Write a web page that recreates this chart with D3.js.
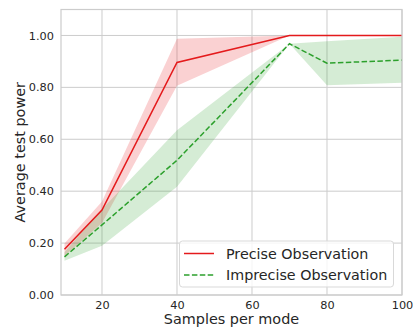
<!DOCTYPE html>
<html><head><meta charset="utf-8">
<script src="https://cdn.jsdelivr.net/npm/d3@7"></script>
<style>body{margin:0;background:#fff}svg{display:block;font-family:"DejaVu Sans",sans-serif}</style>
</head><body>
<svg id="c" width="413" height="328"></svg>
<script>
const samples = [10, 20, 40, 70, 80, 100];
const preciseMean = [0.176, 0.327, 0.896, 1.0, 1.0, 1.0];
const preciseLow  = [0.150, 0.277, 0.806, 1.0, 1.0, 1.0];
const preciseHigh = [0.198, 0.360, 0.987, 1.0, 1.0, 1.0];
const impreciseMean = [0.147, 0.270, 0.519, 0.968, 0.893, 0.905];
const impreciseLow  = [0.132, 0.190, 0.417, 0.968, 0.808, 0.818];
const impreciseHigh = [0.165, 0.330, 0.635, 0.968, 0.978, 0.995];
const xTicks = [20, 40, 60, 80, 100];
const yTicks = [0, 0.2, 0.4, 0.6, 0.8, 1.0];
const seriesNames = ["Precise Observation", "Imprecise Observation"];

const svg = d3.select("#c");
const L = 61, R = 402, T = 9.5, B = 295;
const x = d3.scaleLinear().domain([9.07, 100]).range([L, R]);
const y = d3.scaleLinear().domain([0, 1.1]).range([B, T]);
const grid = "#cccccc";

svg.append("g").selectAll("line").data(xTicks).join("line")
  .attr("x1", d => x(d)).attr("x2", d => x(d)).attr("y1", T).attr("y2", B)
  .attr("stroke", grid).attr("stroke-width", 1);
svg.append("g").selectAll("line").data(yTicks).join("line")
  .attr("y1", d => y(d)).attr("y2", d => y(d)).attr("x1", L).attr("x2", R)
  .attr("stroke", grid).attr("stroke-width", 1);

const idx = d3.range(samples.length);
const area = (lo, hi) => d3.area().x(i => x(samples[i])).y0(i => y(lo[i])).y1(i => y(hi[i]))(idx);
const line = (m) => d3.line().x(i => x(samples[i])).y(i => y(m[i]))(idx);

const red = "#e41a1c", green = "#2ca02c";
svg.append("path").attr("d", area(preciseLow, preciseHigh)).attr("fill", red).attr("fill-opacity", 0.2);
svg.append("path").attr("d", area(impreciseLow, impreciseHigh)).attr("fill", green).attr("fill-opacity", 0.2);
svg.append("path").attr("d", line(preciseMean)).attr("fill", "none").attr("stroke", red).attr("stroke-width", 1.5);
svg.append("path").attr("d", line(impreciseMean)).attr("fill", "none").attr("stroke", green).attr("stroke-width", 1.5).attr("stroke-dasharray", "5.5,2.4");

svg.append("rect").attr("x", L).attr("y", T).attr("width", R - L).attr("height", B - T)
  .attr("fill", "none").attr("stroke", grid).attr("stroke-width", 1.2);

const xa = svg.append("g").attr("transform", `translate(0,${B})`)
  .call(d3.axisBottom(x).tickValues(xTicks).tickSize(0).tickPadding(6).tickFormat(d3.format("d")));
const ya = svg.append("g").attr("transform", `translate(${L},0)`)
  .call(d3.axisLeft(y).tickValues(yTicks).tickSize(0).tickPadding(7).tickFormat(d3.format(".2f")));
[xa, ya].forEach(a => {
  a.select(".domain").remove();
  a.selectAll("text").attr("font-size", 11.3).attr("fill", "#262626").attr("font-family", "DejaVu Sans");
});

svg.append("text").attr("x", (L + R) / 2).attr("y", 324).attr("text-anchor", "middle")
  .attr("font-size", 14.4).attr("fill", "#262626").text("Samples per mode");
svg.append("text").attr("transform", `translate(25,${(T + B) / 2}) rotate(-90)`).attr("text-anchor", "middle")
  .attr("font-size", 14.4).attr("fill", "#262626").text("Average test power");

const lg = svg.append("g");
lg.append("rect").attr("x", 179.5).attr("y", 241).attr("width", 214).attr("height", 46).attr("rx", 3)
  .attr("fill", "#fff").attr("fill-opacity", 0.8).attr("stroke", "#d9d9d9");
const items = [{c: red, dash: null}, {c: green, dash: "5.5,2.4"}];
items.forEach((it, i) => {
  const yy = 253.5 + i * 21.5;
  lg.append("line").attr("x1", 184).attr("x2", 214).attr("y1", yy).attr("y2", yy)
    .attr("stroke", it.c).attr("stroke-width", 1.5).attr("stroke-dasharray", it.dash);
  lg.append("text").attr("x", 226).attr("y", yy + 5.2).attr("font-size", 14.3).attr("fill", "#262626").text(seriesNames[i]);
});
</script>
</body></html>
